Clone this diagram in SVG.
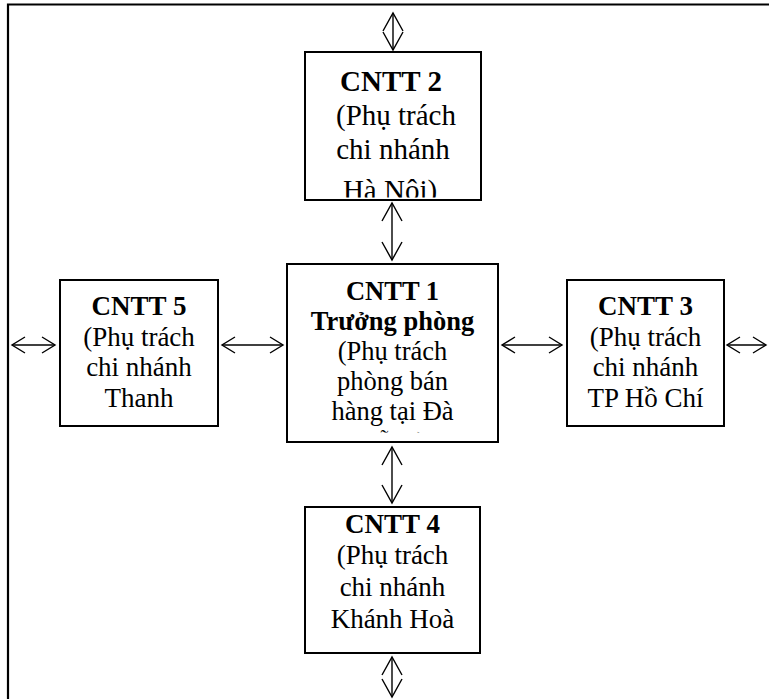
<svg xmlns="http://www.w3.org/2000/svg" width="769" height="699" viewBox="0 0 769 699">
  <style>
    .box { fill: #fff; stroke: #000; stroke-width: 2; }
    .frame { fill: none; stroke: #000; stroke-width: 2.2; }
    .link { fill: none; stroke: #000; stroke-width: 1.4; }
    .t { font-family: "Liberation Serif", "Times New Roman", serif; fill: #000; text-anchor: middle; }
    .b { font-weight: bold; }
  </style>
  <defs>
    <marker id="headV" markerUnits="userSpaceOnUse" orient="auto-start-reverse" refX="0" refY="0" markerWidth="30" markerHeight="30" overflow="visible">
      <path d="M-18,-10 L0,0 L-18,10" fill="none" stroke="#000" stroke-width="1.4"/>
    </marker>
    <marker id="headH" markerUnits="userSpaceOnUse" orient="auto-start-reverse" refX="0" refY="0" markerWidth="30" markerHeight="30" overflow="visible">
      <path d="M-13,-8 L0,0 L-13,8" fill="none" stroke="#000" stroke-width="1.4"/>
    </marker>
    <clipPath id="clip2"><rect x="306" y="53" width="174" height="144.5"/></clipPath>
    <clipPath id="clip1"><rect x="288" y="265" width="209" height="167.6"/></clipPath>
    <clipPath id="clip5"><rect x="61" y="281" width="156" height="144"/></clipPath>
    <clipPath id="clip3"><rect x="568" y="281" width="155" height="144"/></clipPath>
    <clipPath id="clip4"><rect x="306" y="508" width="173" height="144"/></clipPath>
  </defs>

  <!-- outer frame (top and left edges) -->
  <path class="frame" d="M769,4.5 H8 V699"/>

  <g id="connectors">
    <line class="link" x1="393" y1="13" x2="393" y2="50" marker-start="url(#headV)" marker-end="url(#headV)"/>
    <line class="link" x1="392" y1="203" x2="392" y2="260" marker-start="url(#headV)" marker-end="url(#headV)"/>
    <line class="link" x1="392" y1="447" x2="392" y2="503" marker-start="url(#headV)" marker-end="url(#headV)"/>
    <line class="link" x1="392" y1="657" x2="392" y2="697" marker-start="url(#headV)" marker-end="url(#headV)"/>
    <line class="link" x1="12" y1="345" x2="55" y2="345" marker-start="url(#headH)" marker-end="url(#headH)"/>
    <line class="link" x1="222" y1="345" x2="283" y2="345" marker-start="url(#headH)" marker-end="url(#headH)"/>
    <line class="link" x1="502" y1="345" x2="562" y2="345" marker-start="url(#headH)" marker-end="url(#headH)"/>
    <line class="link" x1="727" y1="345" x2="766" y2="345" marker-start="url(#headH)" marker-end="url(#headH)"/>
  </g>

  <g id="cntt2">
    <rect class="box" x="305" y="52" width="176" height="148"/>
    <g clip-path="url(#clip2)" font-size="29">
      <text class="t b" x="391" y="91">CNTT 2</text>
      <text class="t" x="396" y="125">(Phụ trách</text>
      <text class="t" x="393" y="159">chi nhánh</text>
      <text class="t" x="390" y="199.5">Hà Nội)</text>
    </g>
  </g>

  <g id="cntt1">
    <rect class="box" x="287" y="264" width="211" height="178"/>
    <g clip-path="url(#clip1)" font-size="26.5">
      <text class="t b" x="392.5" y="300">CNTT 1</text>
      <text class="t b" x="392.5" y="330">Trưởng phòng</text>
      <text class="t" x="392.5" y="360">(Phụ trách</text>
      <text class="t" x="392.5" y="390">phòng bán</text>
      <text class="t" x="392.5" y="420">hàng tại Đà</text>
      <text class="t" x="392.5" y="451">Nẵng)</text>
    </g>
  </g>

  <g id="cntt5">
    <rect class="box" x="60" y="280" width="158" height="146"/>
    <g clip-path="url(#clip5)" font-size="27">
      <text class="t b" x="139" y="315">CNTT 5</text>
      <text class="t" x="139" y="345.5">(Phụ trách</text>
      <text class="t" x="139" y="376">chi nhánh</text>
      <text class="t" x="139" y="406.5">Thanh</text>
    </g>
  </g>

  <g id="cntt3">
    <rect class="box" x="567" y="280" width="157" height="146"/>
    <g clip-path="url(#clip3)" font-size="27">
      <text class="t b" x="645.5" y="315">CNTT 3</text>
      <text class="t" x="645.5" y="345.5">(Phụ trách</text>
      <text class="t" x="645.5" y="376">chi nhánh</text>
      <text class="t" x="645.5" y="406.5">TP Hồ Chí</text>
    </g>
  </g>

  <g id="cntt4">
    <rect class="box" x="305" y="507" width="175" height="146"/>
    <g clip-path="url(#clip4)" font-size="27">
      <text class="t b" x="392.5" y="532.5">CNTT 4</text>
      <text class="t" x="392.5" y="564">(Phụ trách</text>
      <text class="t" x="392.5" y="596">chi nhánh</text>
      <text class="t" x="392.5" y="628">Khánh Hoà</text>
    </g>
  </g>
</svg>
